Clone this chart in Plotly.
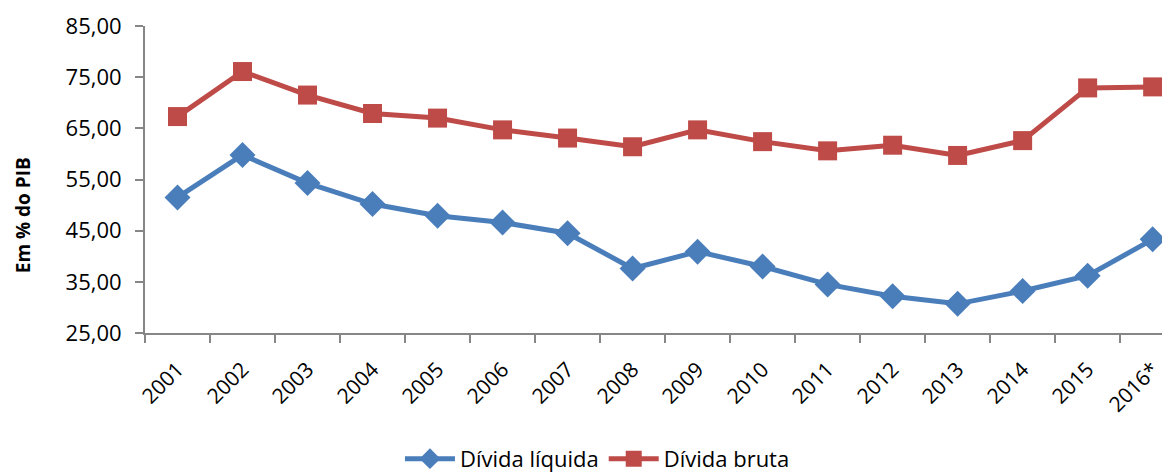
import plotly.graph_objects as go

years = ["2001", "2002", "2003", "2004", "2005", "2006", "2007", "2008",
         "2009", "2010", "2011", "2012", "2013", "2014", "2015", "2016*"]
divida_liquida = [51.5, 59.8, 54.3, 50.2, 47.9, 46.6, 44.5, 37.6,
                  40.9, 38.0, 34.5, 32.2, 30.7, 33.2, 36.2, 43.3]
divida_bruta = [67.3, 76.1, 71.5, 67.9, 67.0, 64.7, 63.1, 61.4,
                64.7, 62.4, 60.6, 61.7, 59.7, 62.6, 72.9, 73.1]
y_ticks = [25, 35, 45, 55, 65, 75, 85]
y_tick_labels = ["25,00", "35,00", "45,00", "55,00", "65,00", "75,00", "85,00"]

BLUE = "#4A7EBB"
RED = "#BE4B48"
FONT = "Open Sans"

fig = go.Figure()
fig.add_trace(go.Scatter(
    x=years, y=divida_liquida, name="Dívida líquida", mode="lines+markers",
    line=dict(color=BLUE, width=5),
    marker=dict(symbol="diamond", size=20, color=BLUE),
))
fig.add_trace(go.Scatter(
    x=years, y=divida_bruta, name="Dívida bruta", mode="lines+markers",
    line=dict(color=RED, width=5),
    marker=dict(symbol="square", size=19, color=RED),
))

fig.update_layout(
    width=1170, height=472,
    margin=dict(l=137, r=0, t=18, b=147, autoexpand=False),
    paper_bgcolor="white", plot_bgcolor="white",
    font=dict(family=FONT, size=21, color="black"),
    showlegend=True,
    legend=dict(orientation="h", x=0.438, xanchor="center", y=-0.41,
                yanchor="middle", font=dict(size=22), itemwidth=50,
                traceorder="normal"),
    xaxis=dict(
        type="category", range=[-0.5, 15.39], showgrid=False,
        showline=True, linecolor="#868686", linewidth=2,
        ticks="outside", tickson="boundaries", ticklen=8,
        tickcolor="#868686", tickwidth=2, tickangle=-45,
        ticklabelstandoff=14,
        tickfont=dict(size=21), zeroline=False, automargin=False,
    ),
    yaxis=dict(
        range=[25, 85], tickvals=y_ticks, ticktext=y_tick_labels,
        showgrid=False, showline=True, linecolor="#868686", linewidth=2,
        ticks="outside", ticklen=8, tickcolor="#868686", tickwidth=2,
        ticklabelstandoff=9,
        tickfont=dict(size=22), zeroline=False, automargin=False,
    ),
    annotations=[dict(
        text="<b>Em % do PIB</b>", xref="paper", yref="paper",
        x=-0.118, y=0.384, xanchor="center", yanchor="middle",
        textangle=-90, showarrow=False, font=dict(size=19),
    )],
)

fig.write_html("out.html")
